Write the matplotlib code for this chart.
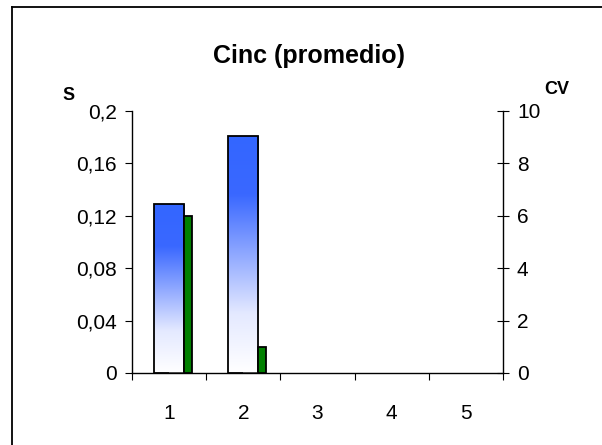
import numpy as np
import matplotlib
matplotlib.use('Agg')
import matplotlib.pyplot as plt
from matplotlib.colors import LinearSegmentedColormap
from matplotlib.lines import Line2D
from matplotlib.ticker import FuncFormatter, FixedLocator

plt.rcParams['font.family'] = ['Liberation Sans', 'DejaVu Sans']

# promedio de cinc por muestra
categories = [1, 2, 3, 4, 5]
s_values = [0.129, 0.181, 0, 0, 0]
cv_values = [6.0, 1.0, 0, 0, 0]
zero_values = [0, 0, 0, 0, 0]
s_ticks = [0, 0.04, 0.08, 0.12, 0.16, 0.2]
cv_ticks = [0, 2, 4, 6, 8, 10]

fig = plt.figure(figsize=(6.02, 4.45), dpi=100)
ax = fig.add_axes([132 / 602, 72 / 445, 371 / 602, 262 / 445])
ax2 = ax.twinx()

x = np.array(categories, dtype=float)
has_data = np.array(s_values) > 0
blue_fade = LinearSegmentedColormap.from_list('fade', ['#ffffff', '#e4e9ff', '#8fa8ff', '#3a68ff', '#3366ff'])
grad = np.linspace(0, 1, 256).reshape(-1, 1)

# S bars with a vertical gradient fill
s_bars = ax.bar(x, s_values, width=0.405, color='none', edgecolor='black', linewidth=1.3, zorder=3)
for bar, v in zip(s_bars, s_values):
    if v <= 0:
        bar.set_visible(False)
        continue
    x0 = bar.get_x()
    im = ax.imshow(grad, cmap=blue_fade, origin='lower', aspect='auto',
                   extent=[x0, x0 + bar.get_width(), 0, v], zorder=2)
    im.set_clip_path(bar)

# CV bars on the secondary axis
zero_bars = ax2.bar(x, zero_values, width=0.2, align='edge', color='none', edgecolor='#555555', linewidth=1.2)
cv_bars = ax2.bar(x + 0.2025, cv_values, width=0.105, align='edge', color='#008000',
                  edgecolor='black', linewidth=1.3)
for zb, cb, ok in zip(zero_bars, cv_bars, has_data):
    zb.set_visible(bool(ok))
    cb.set_visible(bool(ok))

ax.set_xlim(0.5, 5.5)
ax.set_ylim(0, 0.2)
ax2.set_ylim(0, 10)
ax.set_autoscale_on(False)

comma = FuncFormatter(lambda v, p: ('%g' % round(v, 4)).replace('.', ','))
ax.set_yticks(s_ticks)
ax.yaxis.set_major_formatter(comma)
ax2.set_yticks(cv_ticks)

ax.set_xticks(categories)
ax.xaxis.set_minor_locator(FixedLocator(np.arange(0.5, 6.0, 1.0)))
ax.tick_params(axis='x', which='major', length=0, labelsize=15, pad=22)
ax.tick_params(axis='x', which='minor', length=5, width=0.8, direction='out')
ax.tick_params(axis='y', length=5, width=0.8, direction='out', labelsize=15, pad=6)
ax2.tick_params(axis='y', length=8, width=0.8, direction='inout', labelsize=15, pad=6)

for a in (ax, ax2):
    a.spines['top'].set_visible(False)
    for sp in ('left', 'right', 'bottom'):
        a.spines[sp].set_linewidth(1.0)
ax.spines['right'].set_visible(False)
ax2.spines['left'].set_visible(False)
ax2.spines['bottom'].set_visible(False)

fig.text(309 / 602, 1 - 56 / 445, 'Cinc (promedio)', ha='center', va='center',
         fontsize=18, fontweight='bold')
fig.text(69 / 602, 1 - 96 / 445, 'S', ha='center', va='center', fontsize=13, fontweight='bold')
fig.text(557 / 602, 1 - 89 / 445, 'CV', ha='center', va='center', fontsize=13, fontweight='bold')

# chart frame
fig.add_artist(Line2D([12 / 602, 12 / 602], [0, 1 - 7 / 445], transform=fig.transFigure,
                      color='black', linewidth=1.3))
fig.add_artist(Line2D([12 / 602, 1], [1 - 7 / 445, 1 - 7 / 445], transform=fig.transFigure,
                      color='black', linewidth=1.3))

fig.savefig('out.png', dpi=100)
